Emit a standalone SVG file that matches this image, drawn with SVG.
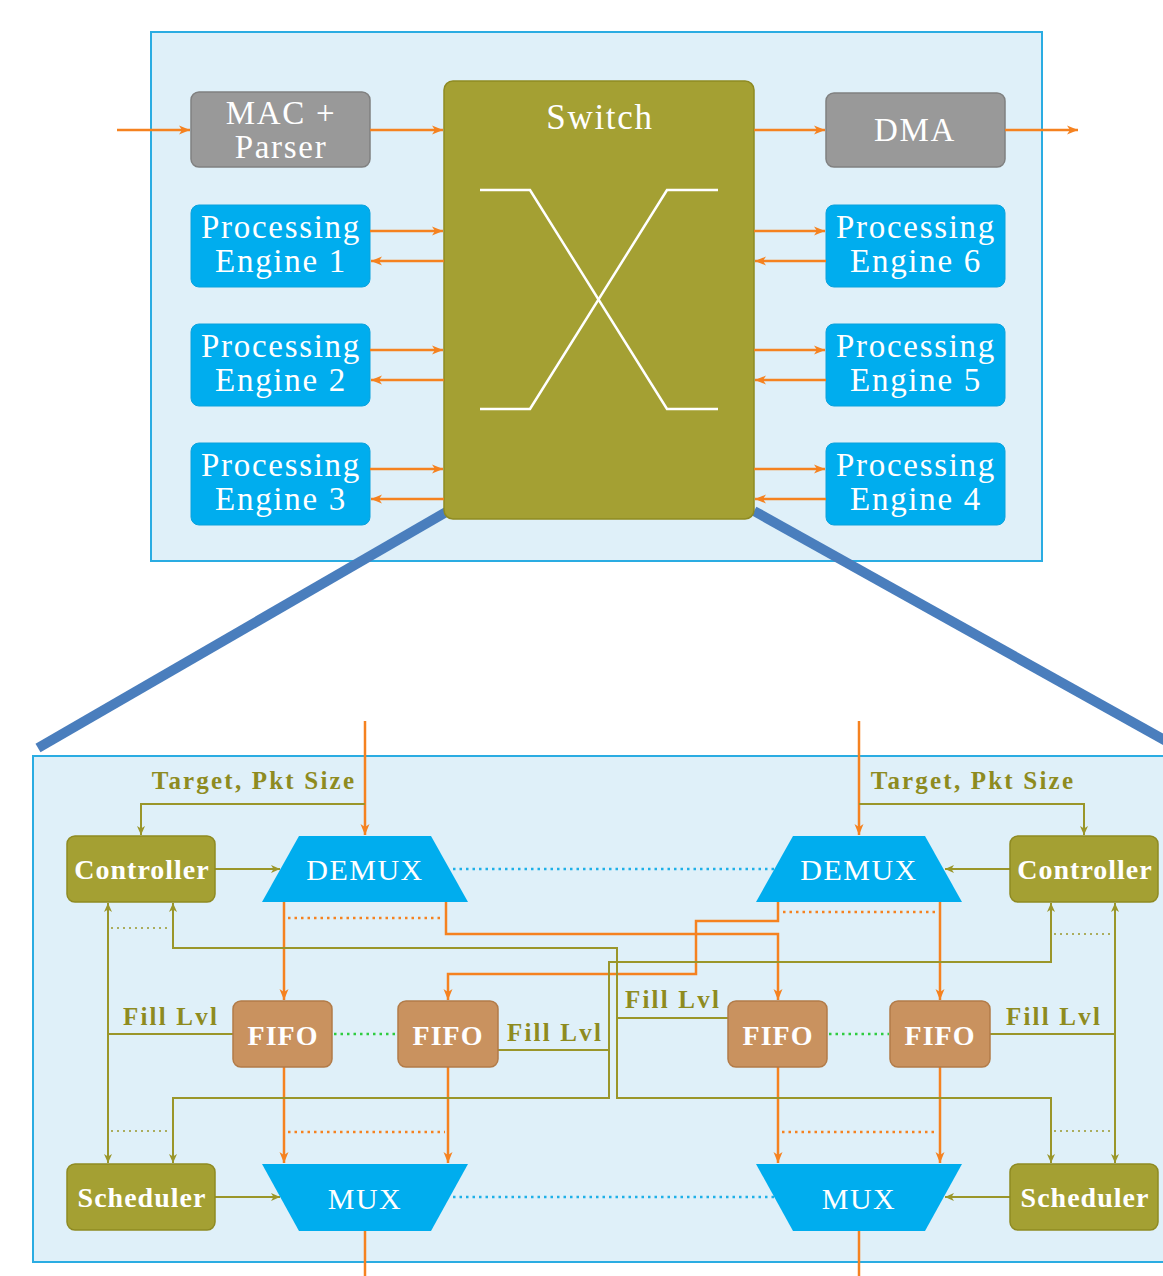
<svg xmlns="http://www.w3.org/2000/svg" width="1163" height="1276" viewBox="0 0 1163 1276">
<style>
.bg{fill:#dff0f9;stroke:#2aace2;stroke-width:2}
.gray{fill:#999999;stroke:#808080;stroke-width:1.5}
.pe{fill:#00adee;stroke:#0aa2dd;stroke-width:1}
.olv{fill:#a4a033;stroke:#8e8a22;stroke-width:1.5}
.fifo{fill:#c9925f;stroke:#b27b48;stroke-width:1.5}
.mux{fill:#00adee}
text{font-family:'Liberation Serif','Times New Roman',Tinos,'DejaVu Serif','Noto Serif',Times,serif}
.t1{font-size:33px;letter-spacing:1.7px;fill:#fff;text-anchor:middle}
.t2{font-size:28px;font-weight:bold;letter-spacing:1px;fill:#fff;text-anchor:middle}
.t3{font-size:30px;letter-spacing:1.5px;fill:#fff;text-anchor:middle}
.lbl{font-size:25px;font-weight:bold;letter-spacing:2.2px;fill:#8e8b1f;text-anchor:middle}
.o{stroke:#f58220;stroke-width:2.5;fill:none}
.oa{stroke:#f58220;stroke-width:2.5;fill:none;marker-end:url(#arrO)}
.g{stroke:#9a962a;stroke-width:2;fill:none}
.ga{stroke:#9a962a;stroke-width:2;fill:none;marker-end:url(#arrG)}
.dotB{stroke:#1fb0e8;stroke-width:2.5;stroke-dasharray:2.5 4;fill:none}
.dotO{stroke:#f58220;stroke-width:2.5;stroke-dasharray:2.5 4;fill:none}
.dotG{stroke:#2ecc40;stroke-width:2.5;stroke-dasharray:2.5 4;fill:none}
.dotL{stroke:#9a962a;stroke-width:1.5;stroke-dasharray:2 4;fill:none}
.zoom{stroke:#4a7ebd;stroke-width:10;fill:none}
.x{stroke:#ffffff;stroke-width:2.5;fill:none}
</style>
<defs>
<marker id="arrO" markerUnits="userSpaceOnUse" markerWidth="12" markerHeight="10" refX="11" refY="5" orient="auto">
<path d="M0,0.5 L11,5 L0,9.5 L3,5 z" fill="#f58220"/>
</marker>
<marker id="arrG" markerUnits="userSpaceOnUse" markerWidth="10" markerHeight="9" refX="9" refY="4.5" orient="auto">
<path d="M0,0.5 L9,4.5 L0,8.5 L2.5,4.5 z" fill="#9a962a"/>
</marker>
</defs>

<rect id="topFrame" class="bg" x="151" y="32" width="891" height="529"/>
<rect id="bottomFrame" class="bg" x="33" y="756" width="1145" height="506"/>

<g id="zoomLines">
<line class="zoom" x1="448" y1="511" x2="38" y2="748"/>
<line class="zoom" x1="754" y1="511" x2="1168" y2="742"/>
</g>

<g id="mac"><rect class="gray" x="191" y="92" width="179" height="75" rx="8"/><text class="t1" x="281" y="124">MAC +</text><text class="t1" x="281" y="158">Parser</text></g>
<g id="switch"><rect class="olv" x="444" y="81" width="310" height="438" rx="9"/><text class="t1" x="600" y="129" style="font-size:35px">Switch</text>
<polyline class="x" points="480,190 530,190 667,409 718,409"/><polyline class="x" points="480,409 530,409 667,190 718,190"/></g>
<g id="dma"><rect class="gray" x="826" y="93" width="179" height="74" rx="8"/><text class="t1" x="915" y="141">DMA</text></g>
<g id="pe1"><rect class="pe" x="191" y="205" width="179" height="82" rx="8"/><text class="t1" x="281" y="238">Processing</text><text class="t1" x="281" y="272">Engine 1</text></g>
<g id="pe2"><rect class="pe" x="191" y="324" width="179" height="82" rx="8"/><text class="t1" x="281" y="357">Processing</text><text class="t1" x="281" y="391">Engine 2</text></g>
<g id="pe3"><rect class="pe" x="191" y="443" width="179" height="82" rx="8"/><text class="t1" x="281" y="476">Processing</text><text class="t1" x="281" y="510">Engine 3</text></g>
<g id="pe6"><rect class="pe" x="826" y="205" width="179" height="82" rx="8"/><text class="t1" x="916" y="238">Processing</text><text class="t1" x="916" y="272">Engine 6</text></g>
<g id="pe5"><rect class="pe" x="826" y="324" width="179" height="82" rx="8"/><text class="t1" x="916" y="357">Processing</text><text class="t1" x="916" y="391">Engine 5</text></g>
<g id="pe4"><rect class="pe" x="826" y="443" width="179" height="82" rx="8"/><text class="t1" x="916" y="476">Processing</text><text class="t1" x="916" y="510">Engine 4</text></g>

<g id="topConnectors">
<line class="oa" x1="117" y1="130" x2="190" y2="130"/>
<line class="oa" x1="370" y1="130" x2="443" y2="130"/>
<line class="oa" x1="754" y1="130" x2="825" y2="130"/>
<line class="oa" x1="1005" y1="130" x2="1078" y2="130"/>
<line class="oa" x1="370" y1="231" x2="443" y2="231"/>
<line class="oa" x1="444" y1="261" x2="371" y2="261"/>
<line class="oa" x1="370" y1="350" x2="443" y2="350"/>
<line class="oa" x1="444" y1="380" x2="371" y2="380"/>
<line class="oa" x1="370" y1="469" x2="443" y2="469"/>
<line class="oa" x1="444" y1="499" x2="371" y2="499"/>
<line class="oa" x1="754" y1="231" x2="825" y2="231"/>
<line class="oa" x1="826" y1="261" x2="755" y2="261"/>
<line class="oa" x1="754" y1="350" x2="825" y2="350"/>
<line class="oa" x1="826" y1="380" x2="755" y2="380"/>
<line class="oa" x1="754" y1="469" x2="825" y2="469"/>
<line class="oa" x1="826" y1="499" x2="755" y2="499"/>
</g>

<g id="bottomConnectors">
<line class="oa" x1="365" y1="721" x2="365" y2="835"/>
<line class="oa" x1="859" y1="721" x2="859" y2="835"/>
<polyline class="ga" points="365,804 141,804 141,835"/>
<polyline class="ga" points="859,804 1084,804 1084,835"/>
<line class="ga" x1="215" y1="869" x2="280" y2="869"/>
<line class="ga" x1="1010" y1="869" x2="945" y2="869"/>
<line class="ga" x1="215" y1="1197" x2="280" y2="1197"/>
<line class="ga" x1="1010" y1="1197" x2="945" y2="1197"/>
<line class="oa" x1="284" y1="902" x2="284" y2="1000"/>
<polyline class="oa" points="446,902 446,934 778,934 778,1000"/>
<polyline class="oa" points="778,902 778,921 696,921 696,974 448,974 448,1000"/>
<line class="oa" x1="940" y1="902" x2="940" y2="1000"/>
<line class="oa" x1="284" y1="1067" x2="284" y2="1163"/>
<line class="oa" x1="448" y1="1067" x2="448" y2="1163"/>
<line class="oa" x1="778" y1="1067" x2="778" y2="1163"/>
<line class="oa" x1="940" y1="1067" x2="940" y2="1163"/>
<line class="o" x1="365" y1="1230" x2="365" y2="1276"/>
<line class="o" x1="859" y1="1230" x2="859" y2="1276"/>
<line class="g" x1="233" y1="1034" x2="108" y2="1034"/>
<line class="ga" x1="108" y1="1034" x2="108" y2="903"/>
<line class="ga" x1="108" y1="1034" x2="108" y2="1163"/>
<polyline class="g" points="728,1018 617,1018"/>
<polyline class="ga" points="617,1018 617,948 173,948 173,903"/>
<polyline class="ga" points="617,1018 617,1098 1051,1098 1051,1163"/>
<polyline class="g" points="498,1050 609,1050"/>
<polyline class="ga" points="609,1050 609,962 1051,962 1051,903"/>
<polyline class="ga" points="609,1050 609,1098 173,1098 173,1163"/>
<line class="g" x1="990" y1="1034" x2="1115" y2="1034"/>
<line class="ga" x1="1115" y1="1034" x2="1115" y2="903"/>
<line class="ga" x1="1115" y1="1034" x2="1115" y2="1163"/>
<line class="dotB" x1="453" y1="869" x2="774" y2="869"/>
<line class="dotB" x1="453" y1="1197" x2="774" y2="1197"/>
<line class="dotO" x1="288" y1="918" x2="442" y2="918"/>
<line class="dotO" x1="783" y1="912" x2="936" y2="912"/>
<line class="dotO" x1="288" y1="1132" x2="445" y2="1132"/>
<line class="dotO" x1="782" y1="1132" x2="936" y2="1132"/>
<line class="dotG" x1="334" y1="1034" x2="397" y2="1034"/>
<line class="dotG" x1="829" y1="1034" x2="889" y2="1034"/>
<line class="dotL" x1="111" y1="928" x2="170" y2="928"/>
<line class="dotL" x1="1054" y1="934" x2="1112" y2="934"/>
<line class="dotL" x1="111" y1="1131" x2="170" y2="1131"/>
<line class="dotL" x1="1054" y1="1131" x2="1112" y2="1131"/>
<text class="lbl" x="254" y="789">Target, Pkt Size</text>
<text class="lbl" x="973" y="789">Target, Pkt Size</text>
<text class="lbl" x="171" y="1025">Fill Lvl</text>
<text class="lbl" x="555" y="1041">Fill Lvl</text>
<text class="lbl" x="673" y="1008">Fill Lvl</text>
<text class="lbl" x="1054" y="1025">Fill Lvl</text>
</g>

<g id="ctrlL"><rect class="olv" x="67" y="836" width="148" height="66" rx="8"/><text class="t2" x="142" y="879">Controller</text></g>
<g id="ctrlR"><rect class="olv" x="1010" y="836" width="148" height="66" rx="8"/><text class="t2" x="1085" y="879">Controller</text></g>
<g id="demuxL"><polygon class="mux" points="299,836 431,836 468,902 262,902"/><text class="t3" x="365" y="880">DEMUX</text></g>
<g id="demuxR"><polygon class="mux" points="793,836 925,836 962,902 756,902"/><text class="t3" x="859" y="880">DEMUX</text></g>
<g id="fifo1"><rect class="fifo" x="233" y="1001" width="99" height="66" rx="8"/><text class="t2" x="283" y="1045">FIFO</text></g>
<g id="fifo2"><rect class="fifo" x="398" y="1001" width="100" height="66" rx="8"/><text class="t2" x="448" y="1045">FIFO</text></g>
<g id="fifo3"><rect class="fifo" x="728" y="1001" width="99" height="66" rx="8"/><text class="t2" x="778" y="1045">FIFO</text></g>
<g id="fifo4"><rect class="fifo" x="890" y="1001" width="100" height="66" rx="8"/><text class="t2" x="940" y="1045">FIFO</text></g>
<g id="schedL"><rect class="olv" x="67" y="1164" width="148" height="66" rx="8"/><text class="t2" x="142" y="1207">Scheduler</text></g>
<g id="schedR"><rect class="olv" x="1010" y="1164" width="148" height="66" rx="8"/><text class="t2" x="1085" y="1207">Scheduler</text></g>
<g id="muxL"><polygon class="mux" points="262,1164 468,1164 431,1231 299,1231"/><text class="t3" x="365" y="1209">MUX</text></g>
<g id="muxR"><polygon class="mux" points="756,1164 962,1164 925,1231 793,1231"/><text class="t3" x="859" y="1209">MUX</text></g>
</svg>
